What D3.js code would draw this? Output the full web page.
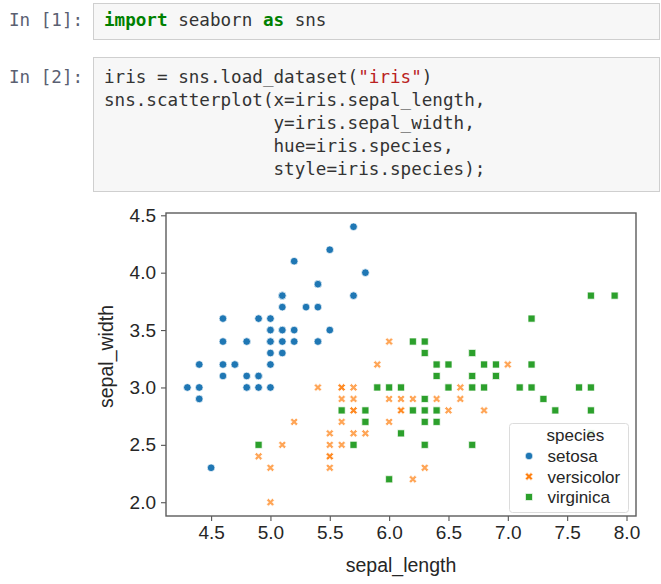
<!DOCTYPE html>
<meta charset="utf-8">
<style>
  body { margin: 0; background: #fff; }
  .code { font-family: 'DejaVu Sans Mono', 'Liberation Mono', monospace; font-size: 17.6px; }
  .plot text { font-family: 'Liberation Sans', Arial, sans-serif; fill: #262626; }
</style>
<body>
<div id="my_dataviz"></div>
<script src="https://d3js.org/d3.v7.min.js"></script>
<script>

// iris sepal measurements, one pair of arrays per species
var setosaLength = [5.1,4.9,4.7,4.6,5.0,5.4,4.6,5.0,4.4,4.9,5.4,4.8,4.8,4.3,5.8,5.7,5.4,5.1,5.7,5.1,
                    5.4,5.1,4.6,5.1,4.8,5.0,5.0,5.2,5.2,4.7,4.8,5.4,5.2,5.5,4.9,5.0,5.5,4.9,4.4,5.1,
                    5.0,4.5,4.4,5.0,5.1,4.8,5.1,4.6,5.3,5.0];
var setosaWidth  = [3.5,3.0,3.2,3.1,3.6,3.9,3.4,3.4,2.9,3.1,3.7,3.4,3.0,3.0,4.0,4.4,3.9,3.5,3.8,3.8,
                    3.4,3.7,3.6,3.3,3.4,3.0,3.4,3.5,3.4,3.2,3.1,3.4,4.1,4.2,3.1,3.2,3.5,3.6,3.0,3.4,
                    3.5,2.3,3.2,3.5,3.8,3.0,3.8,3.2,3.7,3.3];
var versicolorLength = [7.0,6.4,6.9,5.5,6.5,5.7,6.3,4.9,6.6,5.2,5.0,5.9,6.0,6.1,5.6,6.7,5.6,5.8,6.2,5.6,
                        5.9,6.1,6.3,6.1,6.4,6.6,6.8,6.7,6.0,5.7,5.5,5.5,5.8,6.0,5.4,6.0,6.7,6.3,5.6,5.5,
                        5.5,6.1,5.8,5.0,5.6,5.7,5.7,6.2,5.1,5.7];
var versicolorWidth  = [3.2,3.2,3.1,2.3,2.8,2.8,3.3,2.4,2.9,2.7,2.0,3.0,2.2,2.9,2.9,3.1,3.0,2.7,2.2,2.5,
                        3.2,2.8,2.5,2.8,2.9,3.0,2.8,3.0,2.9,2.6,2.4,2.4,2.7,2.7,3.0,3.4,3.1,2.3,3.0,2.5,
                        2.6,3.0,2.6,2.3,2.7,3.0,2.9,2.9,2.5,2.8];
var virginicaLength = [6.3,5.8,7.1,6.3,6.5,7.6,4.9,7.3,6.7,7.2,6.5,6.4,6.8,5.7,5.8,6.4,6.5,7.7,7.7,6.0,
                       6.9,5.6,7.7,6.3,6.7,7.2,6.2,6.1,6.4,7.2,7.4,7.9,6.4,6.3,6.1,7.7,6.3,6.4,6.0,6.9,
                       6.7,6.9,5.8,6.8,6.7,6.7,6.3,6.5,6.2,5.9];
var virginicaWidth  = [3.3,2.7,3.0,2.9,3.0,3.0,2.5,2.9,2.5,3.6,3.2,2.7,3.0,2.5,2.8,3.2,3.0,3.8,2.6,2.2,
                       3.2,2.8,2.8,2.7,3.3,3.2,2.8,3.0,2.8,3.0,2.8,3.8,2.8,2.8,2.6,3.0,3.4,3.1,3.0,3.1,
                       3.1,3.1,2.7,3.2,3.3,3.0,2.5,3.0,3.4,3.0];

var species = ["setosa", "versicolor", "virginica"];
var xTicks = [4.5, 5.0, 5.5, 6.0, 6.5, 7.0, 7.5, 8.0];
var yTicks = [2.0, 2.5, 3.0, 3.5, 4.0, 4.5];

var colors = {setosa: "#1f77b4", versicolor: "#ff7f0e", virginica: "#2ca02c"};

var W = 661, H = 584;
var svg = d3.select("#my_dataviz").append("svg")
    .attr("width", W).attr("height", H);

// ---- notebook cells ----
var cells = [
  {prompt: "In [1]:", y: 3.5, h: 36, base: 22, lines: [
    [["import", "kw"], [" seaborn ", ""], ["as", "kw"], [" sns", ""]]
  ]},
  {prompt: "In [2]:", y: 57.5, h: 134, base: 25, lines: [
    [["iris = sns.load_dataset(", ""], ["\"iris\"", "str"], [")", ""]],
    [["sns.scatterplot(x=iris.sepal_length,", ""]],
    [["                y=iris.sepal_width,", ""]],
    [["                hue=iris.species,", ""]],
    [["                style=iris.species);", ""]]
  ]}
];
var tokColor = {kw: "#008000", str: "#ba2121", "": "#333"};

cells.forEach(function(c) {
  var g = svg.append("g").attr("class", "code");
  g.append("rect")
    .attr("x", 93.5).attr("y", c.y).attr("width", 566).attr("height", c.h)
    .attr("fill", "#f7f7f7").attr("stroke", "#cfcfcf");
  g.append("text")
    .attr("x", 9).attr("y", c.y + c.base)
    .attr("fill", "#5a6072")
    .text(c.prompt);
  c.lines.forEach(function(line, i) {
    var t = g.append("text")
      .attr("x", 104).attr("y", c.y + c.base + i * 23.2)
      .attr("xml:space", "preserve")
      .style("white-space", "pre");
    line.forEach(function(tok) {
      t.append("tspan")
        .attr("fill", tokColor[tok[1]])
        .attr("font-weight", tok[1] == "kw" ? "bold" : null)
        .text(tok[0]);
    });
  });
});

// ---- scatter plot ----
var box = {left: 166, right: 636, top: 213, bottom: 516};
var plot = svg.append("g").attr("class", "plot");

var allLength = setosaLength.concat(versicolorLength, virginicaLength);
var allWidth = setosaWidth.concat(versicolorWidth, virginicaWidth);
var xe = d3.extent(allLength), ye = d3.extent(allWidth);
var xm = (xe[1] - xe[0]) * 0.05, ym = (ye[1] - ye[0]) * 0.05;

var x = d3.scaleLinear().domain([xe[0] - xm, xe[1] + xm]).range([box.left, box.right]);
var y = d3.scaleLinear().domain([ye[0] - ym, ye[1] + ym]).range([box.bottom, box.top]);

var fmt = d3.format(".1f");

var xAxis = plot.append("g")
  .attr("transform", "translate(0," + box.bottom + ")")
  .call(d3.axisBottom(x).tickValues(xTicks).tickFormat(fmt).tickSize(5).tickPadding(5));
var yAxis = plot.append("g")
  .attr("transform", "translate(" + box.left + ",0)")
  .call(d3.axisLeft(y).tickValues(yTicks).tickFormat(fmt).tickSize(5).tickPadding(5));
[xAxis, yAxis].forEach(function(a) {
  a.select(".domain").remove();
  a.selectAll("line").attr("stroke", "#555").attr("stroke-width", 1.1);
  a.selectAll("text").style("font-size", "19px").attr("fill", "#262626");
});

plot.append("rect")
  .attr("x", box.left).attr("y", box.top)
  .attr("width", box.right - box.left).attr("height", box.bottom - box.top)
  .attr("fill", "none").attr("stroke", "#5c5c5c").attr("stroke-width", 1.4);

var points = [];
[[setosaLength, setosaWidth], [versicolorLength, versicolorWidth], [virginicaLength, virginicaWidth]]
  .forEach(function(s, k) {
    s[0].forEach(function(v, i) { points.push({sp: species[k], x: v, y: s[1][i]}); });
  });

var symbols = {setosa: d3.symbolCircle, versicolor: d3.symbolCross, virginica: d3.symbolSquare};
var sizes = {setosa: 46, versicolor: 38, virginica: 50};

function marker(sel, sp) {
  sel.attr("d", d3.symbol(symbols[sp], sizes[sp])())
    .attr("fill", colors[sp])
    .attr("stroke", "#fff").attr("stroke-width", 0.7);
}

plot.selectAll(".pt")
  .data(points)
  .enter().append("path")
    .attr("class", "pt")
    .attr("transform", function(d) {
      return "translate(" + x(d.x) + "," + y(d.y) + ")" + (d.sp == "versicolor" ? " rotate(45)" : "");
    })
    .each(function(d) { marker(d3.select(this), d.sp); })
    .attr("fill-opacity", function(d) { return d.sp == "versicolor" ? 0.7 : 1; });

// axis labels
plot.append("text")
  .attr("x", (box.left + box.right) / 2).attr("y", 572)
  .attr("text-anchor", "middle").style("font-size", "19.5px")
  .text("sepal_length");
plot.append("text")
  .attr("transform", "translate(113," + ((box.top + box.bottom) / 2 - 8) + ") rotate(-90)")
  .attr("text-anchor", "middle").style("font-size", "19.5px")
  .text("sepal_width");

// legend
var lg = plot.append("g").attr("transform", "translate(509.5,423.5)");
lg.append("rect")
  .attr("width", 119).attr("height", 89).attr("rx", 3)
  .attr("fill", "#fff").attr("fill-opacity", 0.8)
  .attr("stroke", "#dcdcdc");
lg.append("text").attr("x", 37).attr("y", 17.5)
  .style("font-size", "17px").text("species");
species.forEach(function(sp, i) {
  var yy = 32.5 + i * 20.5;
  lg.append("path")
    .attr("transform", "translate(19.5," + yy + ")" + (sp == "versicolor" ? " rotate(45)" : ""))
    .call(marker, sp);
  lg.append("text").attr("x", 38).attr("y", yy + 6)
    .style("font-size", "17px").text(sp);
});

</script>
